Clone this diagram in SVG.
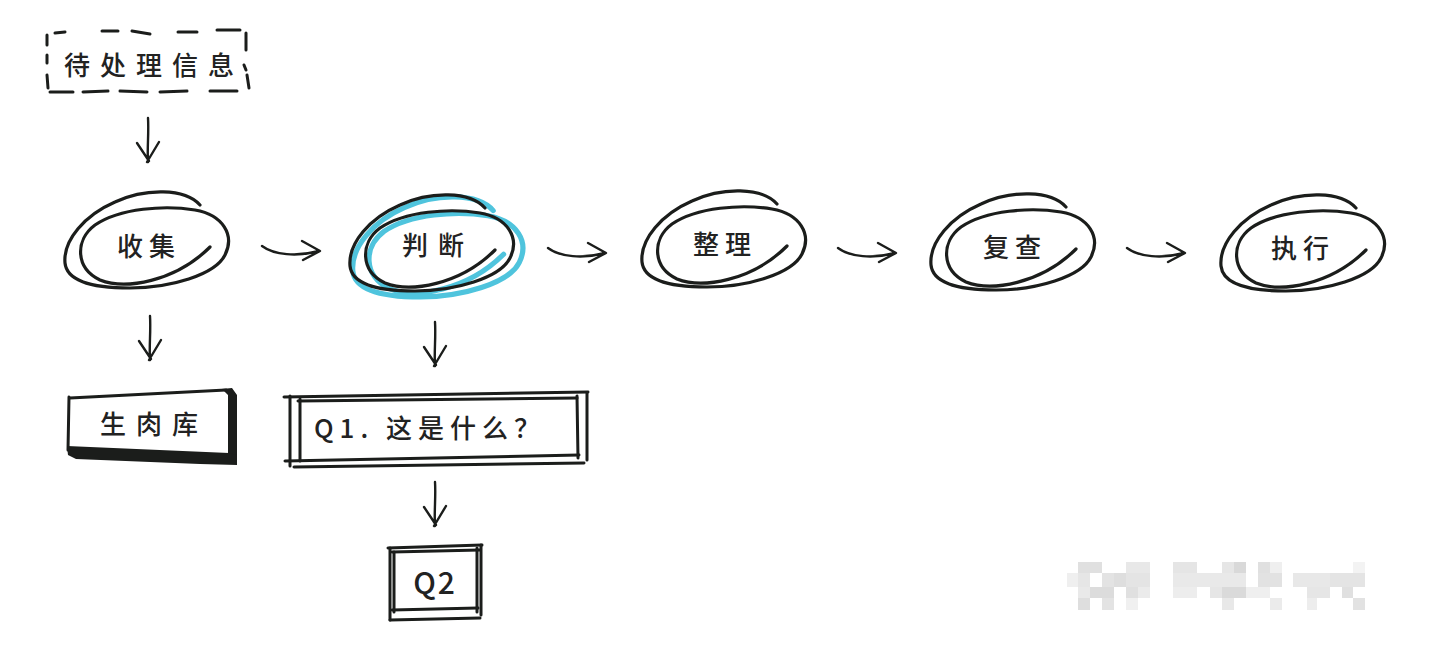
<svg xmlns="http://www.w3.org/2000/svg" xmlns:xlink="http://www.w3.org/1999/xlink" width="1454" height="650" viewBox="0 0 1454 650">
<style>
  .ink{fill:none;stroke:#1b1d1b;stroke-linecap:round;stroke-linejoin:round}
  .loop{stroke-width:3.2}
  .arr{stroke-width:2.4}
  .box{stroke-width:3}
  .blue{fill:none;stroke:#4fc4dd;stroke-width:5;stroke-linecap:round}
  .solid{fill:#1b1d1b;stroke:none}
  .lbl{font-family:"Noto Sans CJK SC","Noto Sans",sans-serif;font-size:26px;font-weight:500;fill:#222;text-anchor:middle;letter-spacing:6px}
  .wm{stroke:none}
</style>
<defs>
  <path id="loop" d="M55,-35 C40,-52 0,-52 -30,-38 C-60,-25 -82,0 -80,23 C-78,42 -50,48 -15,48 C25,48 70,35 80,15 C90,-5 78,-25 50,-30 C20,-35 -25,-32 -50,-15 C-70,0 -70,28 -45,40 C-20,50 30,42 65,7"/>
  <path id="rarrow" d="M0,-2 C12,7 35,9 57,3 M40,-7 L58,3 L41,12"/>
  <path id="darrow" d="M0,0 C1,15 -1,30 0,44 M-11,25 L1,43 M11,24 L-1,44"/>
</defs>
<rect x="0" y="0" width="1454" height="650" fill="#ffffff"/>

<g id="connectors" class="ink arr">
  <use xlink:href="#darrow" transform="translate(148,118)"/>
  <use xlink:href="#rarrow" transform="translate(262,248)"/>
  <use xlink:href="#rarrow" transform="translate(548,250)"/>
  <use xlink:href="#rarrow" transform="translate(838,250)"/>
  <use xlink:href="#rarrow" transform="translate(1127,250)"/>
  <use xlink:href="#darrow" transform="translate(150,316)"/>
  <use xlink:href="#darrow" transform="translate(435,322)"/>
  <use xlink:href="#darrow" transform="translate(435,482)"/>
</g>

<g id="node-pending">
  <g class="ink box">
    <path d="M55,33 L65,32 M102,31 L118,31 M132,31 L150,34 M178,32 L197,32 M217,30 L240,30"/>
    <path d="M47,35 L47,45 M47,55 L47,63 M47,75 L48,88"/>
    <path d="M246,33 L246,50 M244,65 L246,70 M247,75 L249,88"/>
    <path d="M50,92 L73,92 M83,92 L108,91 M120,91 L147,92 M160,92 L187,91 M210,91 L237,91"/>
  </g>
  <text class="lbl" x="154" y="75" style="letter-spacing:10px">待处理信息</text>
</g>

<g id="node-collect">
  <use xlink:href="#loop" class="ink loop" transform="translate(145,240)"/>
  <text class="lbl" x="149" y="256">收集</text>
</g>

<g id="node-judge">
  <use xlink:href="#loop" class="blue" transform="translate(436,247) scale(1.04)"/>
  <use xlink:href="#loop" class="ink loop" transform="translate(430,243)"/>
  <text class="lbl" x="438" y="255" style="letter-spacing:10px">判断</text>
</g>

<g id="node-organize">
  <use xlink:href="#loop" class="ink loop" transform="translate(722,239)"/>
  <text class="lbl" x="725" y="254">整理</text>
</g>

<g id="node-review">
  <use xlink:href="#loop" class="ink loop" transform="translate(1011,242)"/>
  <text class="lbl" x="1015" y="257">复查</text>
</g>

<g id="node-execute">
  <use xlink:href="#loop" class="ink loop" transform="translate(1301,243)"/>
  <text class="lbl" x="1303" y="258">执行</text>
</g>

<g id="node-raw">
  <path class="ink box" d="M70,398 L226,390 M69,397 L68,450"/>
  <polygon class="solid" points="222,389 232,388 237,395 237,463 228,462 228,395"/>
  <polygon class="solid" points="67,446 229,453 237,455 237,465 200,464 76,459 68,455"/>
  <text class="lbl" x="154" y="434" style="letter-spacing:10px">生肉库</text>
</g>

<g id="node-q1">
  <g class="ink box">
    <path d="M284,397 L588,392 M298,401 L577,398"/>
    <path d="M290,396 L290,466 M300,399 L300,461"/>
    <path d="M577,396 L578,458 M587,393 L587,460"/>
    <path d="M285,461 L579,455 M294,467 L584,463"/>
  </g>
  <text class="lbl" x="314" y="438" style="text-anchor:start;letter-spacing:6px">Q1. 这是什么？</text>
</g>

<g id="node-q2">
  <g class="ink box">
    <path d="M388,548 L482,545 M392,552 L480,550"/>
    <path d="M390,548 L390,620 M394,552 L394,612"/>
    <path d="M477,548 L477,612 M481,545 L481,615"/>
    <path d="M392,610 L478,608 M390,620 L480,618"/>
  </g>
  <text class="lbl" x="435" y="594" style="letter-spacing:2px;font-size:30px">Q2</text>
</g>

<g id="watermark" class="wm">
  <rect x="1078" y="562" width="24" height="11" fill="#e0e0e0"/>
  <rect x="1126" y="562" width="24" height="11" fill="#e8e8e8"/>
  <rect x="1173" y="562" width="24" height="11" fill="#e5e5e5"/>
  <rect x="1222" y="562" width="12" height="11" fill="#e6e6e6"/>
  <rect x="1234" y="562" width="12" height="11" fill="#d9d9d9"/>
  <rect x="1258" y="562" width="12" height="11" fill="#e0e0e0"/>
  <rect x="1270" y="562" width="12" height="11" fill="#efefef"/>
  <rect x="1353" y="562" width="12" height="11" fill="#f3f3f3"/>
  <rect x="1067" y="573" width="11" height="14" fill="#efefef"/>
  <rect x="1078" y="573" width="12" height="14" fill="#e6e6e6"/>
  <rect x="1102" y="573" width="12" height="14" fill="#e3e3e3"/>
  <rect x="1114" y="573" width="12" height="14" fill="#dedede"/>
  <rect x="1126" y="573" width="24" height="14" fill="#e4e4e4"/>
  <rect x="1173" y="573" width="73" height="14" fill="#e9e9e9"/>
  <rect x="1258" y="573" width="24" height="14" fill="#e2e2e2"/>
  <rect x="1293" y="573" width="37" height="14" fill="#e8e8e8"/>
  <rect x="1330" y="573" width="35" height="14" fill="#e4e4e4"/>
  <rect x="1078" y="587" width="12" height="11" fill="#e9e9e9"/>
  <rect x="1090" y="587" width="24" height="11" fill="#dcdcdc"/>
  <rect x="1126" y="587" width="12" height="11" fill="#e0e0e0"/>
  <rect x="1138" y="587" width="12" height="11" fill="#ebebeb"/>
  <rect x="1173" y="587" width="24" height="11" fill="#ededed"/>
  <rect x="1210" y="587" width="12" height="11" fill="#e6e6e6"/>
  <rect x="1222" y="587" width="24" height="11" fill="#dadada"/>
  <rect x="1246" y="587" width="24" height="11" fill="#efefef"/>
  <rect x="1307" y="587" width="23" height="11" fill="#e6e6e6"/>
  <rect x="1342" y="587" width="11" height="11" fill="#e0e0e0"/>
  <rect x="1078" y="598" width="12" height="12" fill="#dedede"/>
  <rect x="1102" y="598" width="12" height="12" fill="#e3e3e3"/>
  <rect x="1126" y="598" width="12" height="12" fill="#f0f0f0"/>
  <rect x="1222" y="598" width="12" height="12" fill="#e8e8e8"/>
  <rect x="1270" y="598" width="12" height="12" fill="#ebebeb"/>
  <rect x="1307" y="598" width="10" height="12" fill="#ededed"/>
  <rect x="1353" y="598" width="12" height="12" fill="#e2e2e2"/>
</g>
</svg>
